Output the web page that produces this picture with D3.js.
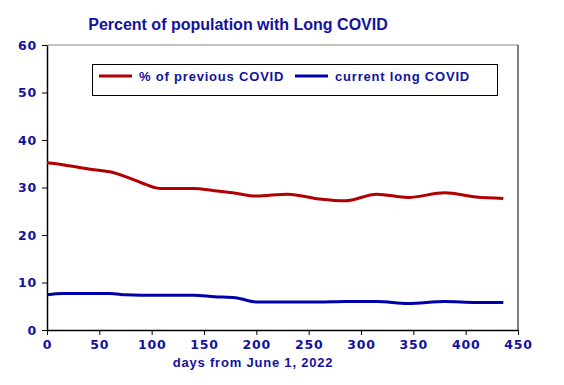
<!DOCTYPE html>
<html>
<head>
<meta charset="utf-8">
<script src="https://cdn.jsdelivr.net/npm/d3@7"></script>
<style>
  body { margin: 0; background: #fff; }
  text { font-family: "Liberation Sans", Arial, sans-serif; font-weight: bold; fill: #1212a0; }
</style>
</head>
<body>
<svg width="564" height="385"></svg>
<script>
// values
var days = [0, 15, 40, 60, 75, 90, 108, 140, 160, 180, 200, 230, 260, 285, 315, 345, 380, 410, 436];
var prevCovid = [35.2, 34.8, 33.9, 33.3, 32.3, 31.0, 29.8, 29.8, 29.3, 28.8, 28.2, 28.6, 27.6, 27.2, 28.6, 27.9, 28.9, 28.0, 27.7];
var longCovid = [7.4, 7.7, 7.7, 7.7, 7.4, 7.3, 7.3, 7.3, 7.0, 6.8, 5.9, 5.9, 5.9, 6.0, 6.0, 5.6, 6.0, 5.8, 5.8];
var seriesNames = ["% of previous COVID", "current long COVID"];
var seriesColors = ["#b00000", "#0000aa"];
var xTicks = [0, 50, 100, 150, 200, 250, 300, 350, 400, 450];
var yTicks = [0, 10, 20, 30, 40, 50, 60];

function drawChart() {
    var svg = d3.select("svg");
    var mLeft = 47, mRight = 518, mTop = 45, mBottom = 330;

    var x = d3.scaleLinear().domain([0, 450]).range([mLeft, mRight]);
    var y = d3.scaleLinear().domain([0, 60]).range([mBottom, mTop]);

    // frame: grey top, black right
    svg.append("line").attr("x1", mLeft).attr("x2", mRight).attr("y1", mTop).attr("y2", mTop)
        .attr("stroke", "#888").attr("stroke-width", 1);
    svg.append("line").attr("x1", mRight).attr("x2", mRight).attr("y1", mTop).attr("y2", mBottom)
        .attr("stroke", "#000").attr("stroke-width", 1);

    var xAxis = svg.append("g").attr("transform", "translate(0," + mBottom + ")")
        .call(d3.axisBottom(x).tickValues(xTicks).tickSize(5).tickSizeOuter(0).tickFormat(d3.format("d")));
    var yAxis = svg.append("g").attr("transform", "translate(" + mLeft + ",0)")
        .call(d3.axisLeft(y).tickValues(yTicks).tickSize(5).tickSizeOuter(0).tickFormat(d3.format("d")));

    [xAxis, yAxis].forEach(function(a) {
        a.select(".domain").attr("stroke", "#000").attr("stroke-width", 1.5);
        a.selectAll(".tick line").attr("stroke", "#000");
        a.selectAll("text").attr("font-family", null)
            .style("font-family", "'DejaVu Sans', sans-serif")
            .style("font-size", "12.5px").style("letter-spacing", "0.8px")
            .attr("fill", "#1212a0");
    });
    xAxis.selectAll("text").attr("dy", "0.9em");
    yAxis.selectAll("text").attr("x", -10);

    var line = d3.line().curve(d3.curveMonotoneX);

    [prevCovid, longCovid].forEach(function(vals, i) {
        svg.append("path")
            .datum(days.map(function(d, j) { return [x(d), y(vals[j])]; }))
            .attr("fill", "none")
            .attr("stroke", seriesColors[i])
            .attr("stroke-width", 3)
            .attr("d", line);
    });

    // title and axis label
    svg.append("text").attr("x", 238).attr("y", 30).attr("text-anchor", "middle")
        .style("font-size", "16px").text("Percent of population with Long COVID");
    svg.append("text").attr("x", 253).attr("y", 367).attr("text-anchor", "middle")
        .style("font-size", "13px").style("letter-spacing", "0.8px").text("days from June 1, 2022");

    // legend
    var legend = svg.append("g");
    legend.append("rect").attr("x", 92.5).attr("y", 64.5).attr("width", 405).attr("height", 31)
        .attr("fill", "#fff").attr("stroke", "#000").attr("stroke-width", 1);
    var legX = [99, 295];
    seriesNames.forEach(function(name, i) {
        legend.append("line").attr("x1", legX[i]).attr("x2", legX[i] + 33).attr("y1", 76).attr("y2", 76)
            .attr("stroke", seriesColors[i]).attr("stroke-width", 3);
        legend.append("text").attr("x", legX[i] + 40).attr("y", 81)
            .style("font-size", "13px").style("letter-spacing", "0.8px").text(name);
    });
}

drawChart();
</script>
</body>
</html>
